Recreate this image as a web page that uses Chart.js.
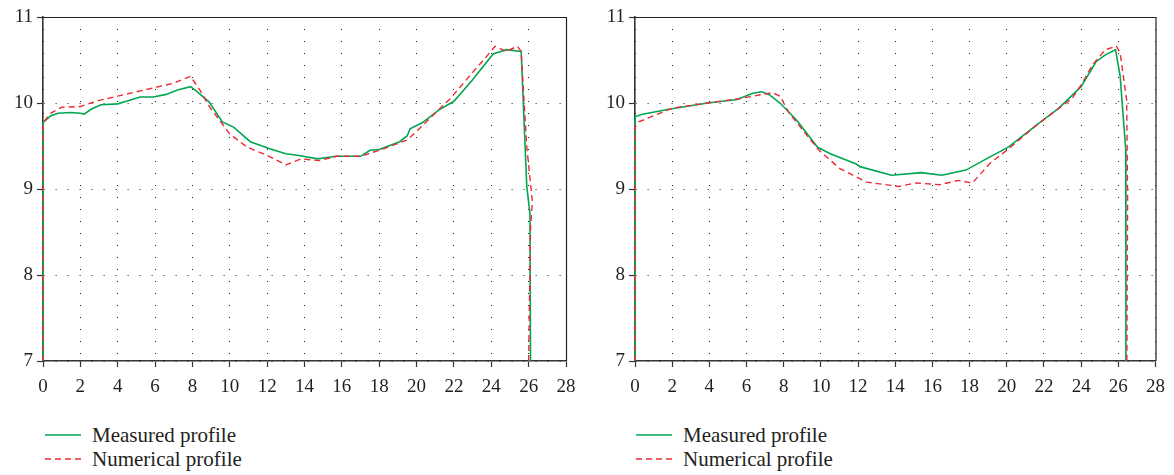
<!DOCTYPE html>
<html>
<head>
<meta charset="utf-8">
<script src="https://cdn.jsdelivr.net/npm/chart.js@4.4.0/dist/chart.umd.min.js"></script>
<style>
  body { margin: 0; background: #fff; width: 1174px; height: 475px; position: relative; overflow: hidden;
         font-family: "Liberation Serif", "Times New Roman", serif; color: #231f20; }
  canvas { position: absolute; top: 0; }
  #chartLeft { left: 0; }
  #chartRight { left: 587px; }
  .legend { position: absolute; top: 423px; font-size: 21px; }
  .legend div { display: flex; align-items: center; height: 24px; }
  .legend svg { width: 36px; height: 4px; margin-right: 11px; }
</style>
</head>
<body>
<canvas id="chartLeft" width="587" height="400"></canvas>
<canvas id="chartRight" width="587" height="400"></canvas>

<div class="legend" style="left:45px">
  <div><svg><line x1="0" y1="2" x2="36" y2="2" stroke="#00a651" stroke-width="1.6"/></svg>Measured profile</div>
  <div><svg><line x1="0" y1="2" x2="36" y2="2" stroke="#ee2a35" stroke-width="1.4" stroke-dasharray="6 4"/></svg>Numerical profile</div>
</div>
<div class="legend" style="left:636px">
  <div><svg><line x1="0" y1="2" x2="36" y2="2" stroke="#00a651" stroke-width="1.6"/></svg>Measured profile</div>
  <div><svg><line x1="0" y1="2" x2="36" y2="2" stroke="#ee2a35" stroke-width="1.4" stroke-dasharray="6 4"/></svg>Numerical profile</div>
</div>

<script>
// axis ticks
const xTicks = [0, 2, 4, 6, 8, 10, 12, 14, 16, 18, 20, 22, 24, 26, 28];
const yTicks = [7, 8, 9, 10, 11];

// left panel
const leftMeasuredX = [0, 0, 0.4, 0.8, 1.5, 2.0, 2.2, 2.6, 3.1, 4.0, 4.6, 5.2, 5.9, 6.6, 7.2, 7.9, 8.2, 8.9, 9.6, 10.2, 11.1, 12.1, 13.0, 13.7, 14.7, 15.7, 17.0, 17.5, 18.0, 19.1, 19.5, 19.65, 20.3, 21.2, 22.0, 23.0, 24.1, 24.8, 25.6, 25.9, 26.07, 26.1];
const leftMeasuredY = [7.0, 9.77, 9.85, 9.88, 9.89, 9.88, 9.87, 9.93, 9.98, 9.99, 10.03, 10.07, 10.07, 10.10, 10.15, 10.19, 10.14, 10.01, 9.78, 9.72, 9.55, 9.47, 9.41, 9.39, 9.35, 9.38, 9.38, 9.45, 9.46, 9.55, 9.62, 9.70, 9.77, 9.92, 10.02, 10.27, 10.57, 10.62, 10.60, 9.03, 8.72, 7.0];
const leftNumericalX = [0, 0, 0.4, 1.0, 2.0, 3.0, 4.0, 5.0, 6.0, 7.0, 7.9, 8.4, 8.9, 10.0, 10.9, 12.1, 13.0, 13.8, 14.8, 15.7, 17.0, 18.0, 19.5, 20.0, 20.7, 21.8, 22.9, 23.9, 24.2, 24.8, 25.4, 25.6, 25.9, 26.2, 26.1, 26.0];
const leftNumericalY = [7.0, 9.77, 9.88, 9.95, 9.96, 10.03, 10.08, 10.13, 10.18, 10.23, 10.31, 10.15, 9.96, 9.64, 9.49, 9.38, 9.28, 9.35, 9.33, 9.38, 9.38, 9.45, 9.57, 9.67, 9.82, 10.05, 10.33, 10.58, 10.66, 10.60, 10.66, 10.60, 9.49, 8.85, 8.55, 7.0];

// right panel
const rightMeasuredX = [0, 0, 0.4, 1.9, 3.9, 5.5, 6.3, 6.8, 7.2, 7.8, 8.7, 9.8, 10.5, 11.9, 12.1, 13.8, 15.4, 16.5, 17.8, 18.9, 20.1, 21.7, 22.8, 24.0, 24.8, 25.3, 25.85, 26.1, 26.4, 26.41];
const rightMeasuredY = [7.0, 9.84, 9.87, 9.93, 10.0, 10.04, 10.11, 10.13, 10.10, 10.0, 9.80, 9.49, 9.41, 9.29, 9.26, 9.16, 9.19, 9.16, 9.22, 9.35, 9.49, 9.76, 9.94, 10.19, 10.48, 10.56, 10.62, 10.31, 9.45, 7.0];
const rightNumericalX = [0, 0, 0.2, 2.0, 3.9, 5.6, 7.4, 7.8, 8.3, 9.9, 11.0, 12.45, 14.2, 15.1, 16.4, 17.4, 18.15, 19.1, 20.0, 21.7, 23.5, 24.0, 24.6, 25.3, 25.9, 26.1, 26.45, 26.5, 26.46];
const rightNumericalY = [7.0, 9.72, 9.78, 9.94, 10.0, 10.05, 10.12, 10.08, 9.88, 9.45, 9.24, 9.08, 9.03, 9.07, 9.05, 9.10, 9.07, 9.30, 9.45, 9.76, 10.05, 10.21, 10.44, 10.62, 10.66, 10.58, 10.03, 8.87, 7.0];

const toPoints = (xs, ys) => xs.map((x, i) => ({ x: x, y: ys[i] }));

// solid frame on top and right side of the plot
const framePlugin = {
  id: "frame",
  afterDraw(chart) {
    const { ctx, chartArea: a } = chart;
    ctx.save();
    ctx.strokeStyle = "#222";
    ctx.lineWidth = 1.2;
    ctx.beginPath();
    ctx.moveTo(a.left, a.top + 0.5);
    ctx.lineTo(a.right + 0.5, a.top + 0.5);
    ctx.lineTo(a.right + 0.5, a.bottom);
    ctx.stroke();
    ctx.restore();
  }
};

const tickFont = { family: "'Liberation Serif', 'Times New Roman', serif", size: 19 };

function makeChart(id, mx, my, nx, ny, padding) {
  const ctx = document.getElementById(id).getContext("2d");
  return new Chart(ctx, {
    type: "line",
    data: {
      datasets: [
        {
          label: "Numerical profile",
          data: toPoints(nx, ny),
          borderColor: "#ee2a35",
          borderWidth: 1.4,
          borderDash: [6, 4],
          pointRadius: 0,
          tension: 0,
          clip: 4
        },
        {
          label: "Measured profile",
          data: toPoints(mx, my),
          borderColor: "#00a651",
          borderWidth: 1.6,
          pointRadius: 0,
          tension: 0,
          clip: 4
        }
      ]
    },
    options: {
      responsive: false,
      animation: false,
      devicePixelRatio: 1,
      layout: { padding: padding },
      plugins: { legend: { display: false }, tooltip: { enabled: false } },
      scales: {
        x: {
          type: "linear",
          min: 0,
          max: 28,
          afterBuildTicks: (s) => { s.ticks = xTicks.map((v) => ({ value: v })); },
          afterFit: (s) => { s.height = 39; },
          ticks: { font: tickFont, color: "#231f20", padding: 9, maxRotation: 0 },
          grid: { color: "#222", lineWidth: 1, tickLength: 6, tickColor: "#333", tickWidth: 1.2, tickBorderDash: [] },
          border: { display: true, color: "#333", width: 1.6, dash: [1, 11] }
        },
        y: {
          min: 7,
          max: 11,
          afterBuildTicks: (s) => { s.ticks = yTicks.map((v) => ({ value: v })); },
          afterFit: (s) => { s.width = 43; },
          ticks: { font: tickFont, color: "#231f20", padding: 4 },
          grid: { color: "#222", lineWidth: 1, tickLength: 6, tickColor: "#333", tickWidth: 1.2, tickBorderDash: [] },
          border: { display: true, color: "#333", width: 1.6, dash: [1, 11] }
        }
      }
    },
    plugins: [framePlugin]
  });
}

makeChart("chartLeft", leftMeasuredX, leftMeasuredY, leftNumericalX, leftNumericalY,
  { left: 0, right: 21, top: 17, bottom: 0 });
makeChart("chartRight", rightMeasuredX, rightMeasuredY, rightNumericalX, rightNumericalY,
  { left: 5, right: 17, top: 17, bottom: 0 });
</script>
</body>
</html>
